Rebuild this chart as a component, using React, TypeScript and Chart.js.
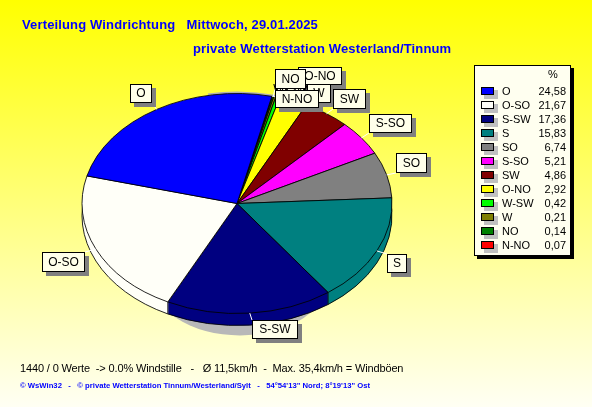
import React, { useEffect, useRef } from "react";
import { Chart, registerables } from "chart.js";

Chart.register(...registerables);

const categories = ["O", "O-SO", "S-SW", "S", "SO", "S-SO", "SW", "O-NO", "W-SW", "W", "NO", "N-NO"];
const shares = [24.58, 21.67, 17.36, 15.83, 6.74, 5.21, 4.86, 2.92, 0.42, 0.21, 0.14, 0.07];
const shareLabels = ["24,58", "21,67", "17,36", "15,83", "6,74", "5,21", "4,86", "2,92", "0,42", "0,21", "0,14", "0,07"];
const colors = ["#0000FF", "#FFFFF8", "#000080", "#008080", "#808080", "#FF00FF", "#800000", "#FFFF00", "#00FF00", "#808000", "#008000", "#FF0000"];

const titleLine1 = "Verteilung Windrichtung   Mittwoch, 29.01.2025";
const titleLine2 = "private Wetterstation Westerland/Tinnum";
const statsLine = "1440 / 0 Werte  -> 0.0% Windstille   -   Ø 11,5km/h  -  Max. 35,4km/h = Windböen";
const creditLine = "© WsWin32   -   © private Wetterstation Tinnum/Westerland/Sylt   -   54°54'13\" Nord; 8°19'13\" Ost";

// Label boxes [left, top, right, bottom], listed in paint order.
const labelBoxes: [string, number, number, number, number][] = [
  ["O", 130, 84, 152, 103],
  ["O-SO", 42, 252, 85, 272],
  ["S-SW", 252, 320, 298, 339],
  ["S", 387, 254, 407, 273],
  ["SO", 396, 153, 427, 173],
  ["S-SO", 369, 114, 412, 133],
  ["SW", 333, 89, 366, 109],
  ["W-SW", 276, 72, 305, 106],
  ["O-NO", 298, 67, 342, 85],
  ["W", 307, 84, 331, 103],
  ["NO", 275, 69, 306, 89],
  ["N-NO", 275, 90, 319, 108],
];

const SQUASH = 110 / 155;
const DEPTH = 12;

const piePlugin = {
  id: "pie3d",
  beforeDraw(chart: any) {
    const { ctx, width, height } = chart;
    const g = ctx.createLinearGradient(0, 0, 0, height);
    g.addColorStop(0, "#FFFF00");
    g.addColorStop(1, "#FFFFF4");
    ctx.save();
    ctx.fillStyle = g;
    ctx.fillRect(0, 0, width, height);
    ctx.restore();
  },
  beforeDatasetsDraw(chart: any) {
    const { ctx } = chart;
    const arcs = chart.getDatasetMeta(0).data;
    const cx = arcs[0].x;
    const cy = arcs[0].y;
    const r = arcs[0].outerRadius;

    ctx.save();
    ctx.fillStyle = "#B8B8B8";
    ctx.beginPath();
    ctx.ellipse(cx + 3, cy + 72, 90, 60, 0, 0, Math.PI * 2);
    ctx.fill();
    ctx.strokeStyle = "#B0B0B0";
    ctx.lineWidth = 2;
    ctx.beginPath();
    ctx.ellipse(cx, cy - 1, r, r * SQUASH, 0, -Math.PI * 0.56, -Math.PI * 0.42);
    ctx.stroke();
    ctx.restore();

    ctx.save();
    ctx.translate(cx, cy);
    ctx.scale(1, SQUASH);
    ctx.translate(-cx, -cy);

    const slicePath = (a: any) => {
      ctx.beginPath();
      ctx.moveTo(a.x, a.y);
      ctx.arc(a.x, a.y, a.outerRadius, a.startAngle, a.endAngle);
      ctx.closePath();
    };
    for (let d = DEPTH; d >= 1; d--) {
      for (const a of arcs) {
        ctx.save();
        ctx.translate(0, d / SQUASH);
        slicePath(a);
        ctx.fillStyle = a.options.backgroundColor;
        ctx.fill();
        ctx.restore();
      }
    }
    // Outline of the side wall and its slice edges.
    ctx.strokeStyle = "#000";
    ctx.lineWidth = 1;
    for (const a of arcs) {
      ctx.save();
      ctx.translate(0, DEPTH / SQUASH);
      ctx.beginPath();
      ctx.arc(a.x, a.y, a.outerRadius, a.startAngle, a.endAngle);
      ctx.stroke();
      ctx.restore();
      const ex = a.x + Math.cos(a.endAngle) * a.outerRadius;
      const ey = a.y + Math.sin(a.endAngle) * a.outerRadius;
      if (Math.sin(a.endAngle) > 0) {
        ctx.beginPath();
        ctx.moveTo(ex, ey);
        ctx.lineTo(ex, ey + DEPTH / SQUASH);
        ctx.stroke();
      }
    }
  },
  afterDatasetsDraw(chart: any) {
    const { ctx } = chart;
    ctx.restore();
    const meta = chart.getDatasetMeta(0);
    const n = categories.length;

    // Leader lines, then every shadow, then the label boxes.
    for (const [name, l, t, rr, b] of labelBoxes) {
      const arc = meta.data[n - 1 - categories.indexOf(name)];
      const mid = (arc.startAngle + arc.endAngle) / 2;
      const px = arc.x + Math.cos(mid) * arc.outerRadius;
      const py = arc.y + Math.sin(mid) * arc.outerRadius * SQUASH;
      const qx = Math.min(rr, Math.max(l, px));
      const qy = Math.min(b, Math.max(t, py));
      ctx.strokeStyle = "#FFFFFF";
      ctx.lineWidth = 1;
      ctx.beginPath();
      ctx.moveTo(px, py);
      ctx.lineTo(qx, qy);
      ctx.stroke();
    }
    ctx.textBaseline = "middle";
    for (const [, l, t, rr, b] of labelBoxes) {
      ctx.fillStyle = "#808080";
      ctx.fillRect(l + 4, t + 4, rr - l, b - t);
    }
    for (const [name, l, t, rr, b] of labelBoxes) {
      ctx.fillStyle = "#FFFFEA";
      ctx.fillRect(l, t, rr - l, b - t);
      ctx.strokeStyle = "#000";
      ctx.lineWidth = 1;
      ctx.strokeRect(l + 0.5, t + 0.5, rr - l - 1, b - t - 1);
      ctx.fillStyle = "#000";
      ctx.font = "12px 'Liberation Sans'";
      ctx.textAlign = "center";
      ctx.fillText(name, (l + rr) / 2, (t + b) / 2 + 0.5);
    }

    // Legend panel.
    ctx.fillStyle = "#000";
    ctx.fillRect(477, 68, 97, 191);
    ctx.fillStyle = "#FFFFF0";
    ctx.fillRect(474, 65, 97, 191);
    ctx.strokeStyle = "#000";
    ctx.strokeRect(474.5, 65.5, 96, 190);
    ctx.font = "11px 'Liberation Sans'";
    ctx.fillStyle = "#000";
    ctx.textAlign = "center";
    ctx.fillText("%", 553, 75);
    categories.forEach((name, i) => {
      const y = 91 + i * 14;
      ctx.fillStyle = "#C0C0C0";
      ctx.fillRect(484, y - 1, 14, 9);
      ctx.fillStyle = colors[i];
      ctx.fillRect(481, y - 4, 13, 8);
      ctx.strokeStyle = "#000";
      ctx.strokeRect(481.5, y - 3.5, 12, 7);
      ctx.fillStyle = "#000";
      ctx.textAlign = "left";
      ctx.fillText(name, 502, y + 0.5);
      ctx.textAlign = "right";
      ctx.fillText(shareLabels[i], 566, y + 0.5);
    });

    // Titles and footer.
    ctx.textAlign = "left";
    ctx.fillStyle = "#0000FF";
    ctx.font = "bold 13px 'Liberation Sans'";
    ctx.letterSpacing = "0.14px";
    ctx.fillText(titleLine1, 22, 25);
    ctx.fillText(titleLine2, 193, 49);
    ctx.fillStyle = "#000";
    ctx.font = "11px 'Liberation Sans'";
    ctx.letterSpacing = "-0.14px";
    ctx.fillText(statsLine, 20, 369);
    ctx.fillStyle = "#0000FF";
    ctx.font = "bold 7.7px 'Liberation Sans'";
    ctx.letterSpacing = "0px";
    ctx.fillText(creditLine, 20, 386);
  },
};

export default function App() {
  const ref = useRef<HTMLCanvasElement>(null);
  useEffect(() => {
    const chart = new Chart(ref.current as HTMLCanvasElement, {
      type: "pie",
      data: {
        labels: [...categories].reverse(),
        datasets: [
          {
            data: [...shares].reverse(),
            backgroundColor: [...colors].reverse(),
            borderColor: "#000",
            borderWidth: 1,
            radius: 155,
            clip: false,
          } as any,
        ],
      },
      options: {
        responsive: false,
        animation: false,
        rotation: 13,
        layout: { padding: { left: 0, right: 118, top: 0, bottom: 0 } },
        plugins: { legend: { display: false }, tooltip: { enabled: false }, title: { display: false } },
      },
      plugins: [piePlugin],
    } as any);
    return () => chart.destroy();
  }, []);
  return (
    <canvas
      ref={ref}
      width={592}
      height={407}
      style={{ position: "fixed", left: 0, top: 0, width: 592, height: 407, display: "block" }}
    />
  );
}
